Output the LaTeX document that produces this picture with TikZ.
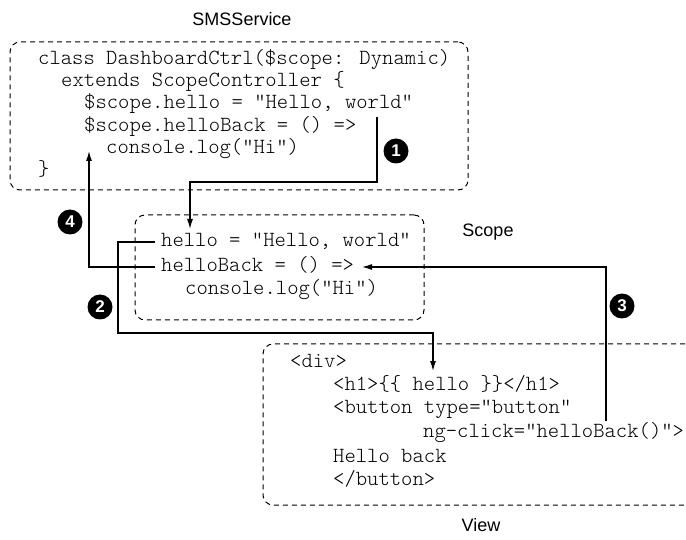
\documentclass[tikz,border=0pt]{standalone}
\usepackage{fontspec}
\setmainfont{Liberation Sans}
\newfontfamily\codefont{Latin Modern Mono Light}
\usetikzlibrary{arrows.meta}
\begin{document}
\begin{tikzpicture}[x=1pt,y=-1pt,
  code/.style={anchor=base west,inner sep=0pt,font=\codefont\fontsize{21.6}{22}\selectfont},
  lbl/.style={font=\fontsize{18}{20}\selectfont,inner sep=0pt},
  zone/.style={draw,dash pattern=on 5pt off 4pt,line width=1pt,rounded corners=10pt},
  conn/.style={line width=1.2pt},
  arr/.style={conn,-{Latex[length=10pt,width=6pt]}},
  num/.style={circle,fill=black,text=white,inner sep=0pt,minimum size=25pt,font=\bfseries\fontsize{17}{17}\selectfont}]
\useasboundingbox (0,0) rectangle (686,540);

% SMSService
\node[lbl] (sms) at (242,19) {SMSService};
\node[zone,minimum width=458pt,minimum height=148pt] (smsbox) at (239,116) {};
\node[code] (c1) at (38,65) {class DashboardCtrl(\$scope: Dynamic)};
\node[code] (c2) at (61,87) {extends ScopeController \{};
\node[code] (c3) at (84,109) {\$scope.hello = "Hello, world"};
\node[code] (c4) at (84,132) {\$scope.helloBack = () =>};
\node[code] (c5) at (106,154) {console.log("Hi")};
\node[code] (c6) at (38,176) {\}};

% Scope
\node[lbl] (scope) at (488,232) {Scope};
\node[zone,minimum width=289pt,minimum height=105pt] (scopebox) at (279.5,267.5) {};
\node[code] (s1) at (161,247) {hello = "Hello, world"};
\node[code] (s2) at (161,272) {helloBack = () =>};
\node[code] (s3) at (185,295) {console.log("Hi")};

% View
\node[lbl] (view) at (481,525) {View};
\begin{scope}
\clip (0,0) rectangle (686,540);
\node[zone,minimum width=432pt,minimum height=161pt] (viewbox) at (479,424.5) {};
\end{scope}
\node[code] (v1) at (290,367) {<div>};
\node[code] (v2) at (333,390) {<h1>\{\{ hello \}\}</h1>};
\node[code] (v3) at (333,413) {<button type="button"};
\node[code] (v4) at (423,437) {ng-click="helloBack()">};
\node[code] (v5) at (333,462) {Hello back};
\node[code] (v6) at (333,485) {</button>};

% connectors
\coordinate (a1s) at (377,117);
\coordinate (a1e) at (190,229);
\draw[arr] (a1s) -- ++(0,65) -| (a1e);
\coordinate (a2s) at (155,242);
\coordinate (a2e) at (433,371);
\draw[arr] (a2s) -| (118,333) -| (a2e);
\coordinate (a3s) at (606,421);
\coordinate (a3e) at (362,267);
\draw[arr] (a3s) |- (a3e);
\coordinate (a4s) at (155,267);
\coordinate (a4e) at (89,151);
\draw[arr] (a4s) -| (a4e);

% numbers
\node[num] (n1) at (396,151) {1};
\node[num] (n2) at (100,307) {2};
\node[num] (n3) at (622,306) {3};
\node[num] (n4) at (70,222) {4};
\end{tikzpicture}
\end{document}
